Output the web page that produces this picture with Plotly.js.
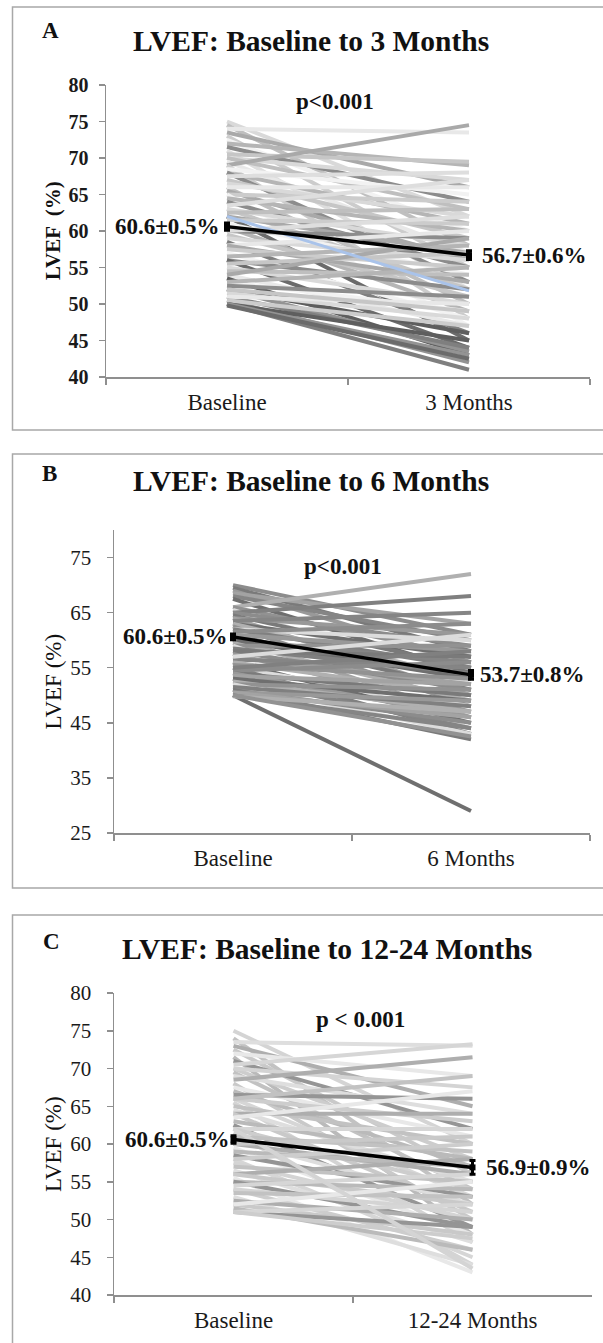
<!DOCTYPE html>
<html>
<head>
<meta charset="utf-8">
<script src="https://cdn.plot.ly/plotly-3.0.1.min.js"></script>
<style>
  html, body { margin: 0; padding: 0; background: #ffffff; }
  #chart { width: 603px; height: 1343px; }
</style>
</head>
<body>
<div id="chart"></div>
<script>
// ---------------- DATA ----------------
const catsA = ['Baseline', '3 Months'];
const catsB = ['Baseline', '6 Months'];
const catsC = ['Baseline', '12-24 Months'];

// Panel A: individual patients, baseline and 3 months LVEF (%)
const baseA   = [75, 74.5, 74, 73.5, 73, 72.5, 72, 71.5, 71, 70.5, 70, 70, 69.5, 69, 69, 68.5, 68, 68, 67.5, 67,
                 66.5, 66, 66, 65.5, 65, 65, 64.5, 64, 63.5, 63, 63, 62.5, 62, 62, 61.5, 61, 60.5, 60, 60, 59.5,
                 59, 58.5, 58, 58, 57.5, 57, 56.5, 56, 56, 55.5, 55, 54.5, 54, 54, 53.5, 53, 53, 52.5, 52, 52,
                 51.5, 51, 51, 50.5, 50.5, 50, 50, 50, 49.8, 52];
const followA = [62, 58, 73.5, 66, 55, 60, 69, 64, 52, 69.5, 67, 63, 57, 74.5, 48, 65, 61, 53, 68, 59,
                 62, 50, 66, 56, 64, 47, 60, 55, 67, 52, 58, 63, 45, 57, 61, 54, 49, 59, 62, 51,
                 56, 46, 60, 53, 55, 48, 58, 52, 44, 57, 50, 54, 47, 59, 43, 49, 55, 51, 46, 43.5,
                 48, 44, 50, 42, 47, 41, 45, 43, 42.5, 49];
const meanA = [60.6, 56.7];
const semA  = [0.5, 0.6];
const blueA = [62.0, 51.8];

// Panel B: baseline and 6 months
const baseB   = [70, 69.5, 69, 68.5, 68, 67.5, 66, 66, 65.5, 65, 65, 64.5, 64, 64, 63.5, 63, 63, 62.5, 62, 62,
                 61.5, 61, 61, 60.5, 60, 60, 59.5, 59, 59, 58.5, 58, 58, 57.5, 57, 56.5, 56, 56, 55.5, 55, 55,
                 54.5, 54, 54, 53.5, 53, 53, 52.5, 52, 52, 51.5, 51, 51, 50.5, 50.5, 50, 50, 49.8, 50, 57, 55];
const followB = [61, 58, 56, 63, 60, 54, 72, 57, 52, 68, 59, 55, 61, 50, 65, 57, 53, 48, 60, 55,
                 63, 51, 58, 46, 56, 53, 49, 59, 44, 54, 51, 57, 47, 52, 55, 45, 50, 53, 48, 43,
                 56, 50, 46, 52, 44, 49, 47, 51, 43, 48, 45, 42, 49, 46, 44, 29, 47, 42.5, 61, 58];
const meanB = [60.6, 53.7];
const semB  = [0.5, 0.8];

// Panel C: baseline and 12-24 months
const baseC   = [75, 74, 73.5, 73, 72.5, 72, 71.5, 71, 70.5, 70, 70, 69.5, 69, 68.5, 68, 67.5, 67, 66.5, 66, 66,
                 65.5, 65, 64.5, 64, 64, 63.5, 63, 62.5, 62, 62, 61.5, 61, 60.5, 60, 60, 59.5, 59, 58.5, 58, 58,
                 57.5, 57, 56.5, 56, 56, 55.5, 55, 55, 54.5, 54, 54, 53.5, 53, 52.5, 52, 52, 51.5, 51, 51, 51,
                 62, 66];
const followC = [60, 52, 73, 65, 56, 69, 48, 62, 73.2, 58, 67.5, 54, 64, 71.5, 50, 61, 57, 66, 53, 63,
                 47, 60, 55, 64, 51, 67, 58, 49, 62, 54, 44, 59, 52, 56, 61, 48, 57, 53, 45, 60,
                 50, 55, 47, 58, 52, 43, 54, 49, 56, 46, 51, 53, 44, 50, 48, 55, 46, 49, 52, 47.5,
                 43.5, 69];
const meanC = [60.6, 56.9];
const semC  = [0.5, 0.9];

const yTicksA = [40, 45, 50, 55, 60, 65, 70, 75, 80];
const yTicksB = [25, 35, 45, 55, 65, 75];
const yTicksC = [40, 45, 50, 55, 60, 65, 70, 75, 80];

// ---------------- STYLE ----------------
const paletteA = ['#d9d9d9','#bfbfbf','#e8e8e8','#a9a9a9','#cccccc','#f2f2f2','#b5b5b5','#8c8c8c','#dedede','#c6c6c6'];
const darkA    = ['#6b6b6b','#7f7f7f','#5e5e5e','#939393'];
const paletteB = ['#8c8c8c','#7a7a7a','#999999','#a3a3a3','#858585','#6f6f6f','#b0b0b0','#929292','#dcdcdc','#808080'];
const paletteC = ['#d4d4d4','#c2c2c2','#dedede','#aeaeae','#c9c9c9','#e8e8e8','#bababa','#959595','#d6d6d6','#cdcdcd'];

const SERIF = 'Liberation Serif, Times New Roman, serif';
const AXIS_GRAY = '#8f8f8f';

const traces = [];
function addPatients(cats, base, follow, xa, ya, colorFor) {
  for (let i = 0; i < base.length; i++) {
    traces.push({
      type: 'scatter', mode: 'lines', x: cats, y: [base[i], follow[i]],
      xaxis: xa, yaxis: ya, hoverinfo: 'skip', showlegend: false,
      line: { color: colorFor(i, follow[i]), width: 4 }
    });
  }
}
addPatients(catsA, baseA, followA, 'x', 'y',
  (i, f) => f < 46.5 ? darkA[i % darkA.length] : paletteA[i % paletteA.length]);
addPatients(catsB, baseB, followB, 'x2', 'y2', (i) => paletteB[i % paletteB.length]);
addPatients(catsC, baseC, followC, 'x3', 'y3', (i) => paletteC[i % paletteC.length]);

traces.push({
  type: 'scatter', mode: 'lines', x: catsA, y: blueA, xaxis: 'x', yaxis: 'y',
  line: { color: '#a9c3ea', width: 3 }, showlegend: false, hoverinfo: 'skip'
});

function addMean(cats, mean, sem, xa, ya) {
  traces.push({
    type: 'scatter', mode: 'lines+markers', x: cats, y: mean, xaxis: xa, yaxis: ya,
    line: { color: '#000000', width: 3.5 },
    marker: { symbol: 'square', size: 6, color: '#000000' },
    error_y: { type: 'data', array: sem, visible: true, color: '#000000', thickness: 3, width: 3 },
    showlegend: false, hoverinfo: 'skip'
  });
}
addMean(catsA, meanA, semA, 'x', 'y');
addMean(catsB, meanB, semB, 'x2', 'y2');
addMean(catsC, meanC, semC, 'x3', 'y3');

const W = 603, H = 1343;
const px = v => v / W;
const py = v => 1 - v / H;

function xAxis(cats, d0, d1, anchor) {
  return {
    domain: [px(d0), px(d1)], anchor: anchor, type: 'category',
    categoryorder: 'array', categoryarray: cats, range: [-0.5, 1.5],
    showline: true, linecolor: AXIS_GRAY, linewidth: 1.5,
    ticks: 'outside', tickson: 'boundaries', ticklen: 6, tickcolor: AXIS_GRAY, tickwidth: 1.5,
    showgrid: false, zeroline: false, fixedrange: true,
    tickfont: { family: SERIF, size: 23, color: '#1a1a1a' }, ticklabelstandoff: 4
  };
}
function yAxis(ticks, range, d0, d1, anchor, bold, size, standoff) {
  return {
    domain: [py(d1), py(d0)], anchor: anchor, range: range,
    tickmode: 'array', tickvals: ticks, ticktext: ticks.map(String),
    showline: true, linecolor: AXIS_GRAY, linewidth: 1.5,
    ticks: 'outside', ticklen: 6, tickcolor: AXIS_GRAY, tickwidth: 1.5,
    showgrid: false, zeroline: false, fixedrange: true,
    tickfont: { family: SERIF, size: size, color: '#1a1a1a', weight: bold ? 'bold' : 'normal' },
    ticklabelstandoff: standoff
  };
}

const annotations = [];
function txt(o) {
  annotations.push(Object.assign({ showarrow: false, xanchor: 'center', yanchor: 'middle',
    font: { family: SERIF, size: 23, color: '#111111' } }, o));
}

// panel letters & titles
const letterFont = { family: SERIF, size: 23, color: '#111' };
const titleFont = { family: SERIF, size: 29.5, color: '#111' };
txt({ text: '<b>A</b>', xref: 'paper', yref: 'paper', x: px(50), y: py(31), font: letterFont });
txt({ text: '<b>B</b>', xref: 'paper', yref: 'paper', x: px(49), y: py(473), font: letterFont });
txt({ text: '<b>C</b>', xref: 'paper', yref: 'paper', x: px(51), y: py(941), font: letterFont });
txt({ text: '<b>LVEF: Baseline to 3 Months</b>', xref: 'paper', yref: 'paper', x: px(311), y: py(41), font: titleFont });
txt({ text: '<b>LVEF: Baseline to 6 Months</b>', xref: 'paper', yref: 'paper', x: px(311), y: py(481), font: titleFont });
txt({ text: '<b>LVEF: Baseline to 12-24 Months</b>', xref: 'paper', yref: 'paper', x: px(327), y: py(949), font: titleFont });

// y titles
txt({ text: '<b>LVEF  (%)</b>', xref: 'paper', yref: 'y domain', x: px(53), y: 0.5, textangle: -90, font: { family: SERIF, size: 21, color: '#111' } });
txt({ text: 'LVEF (%)', xref: 'paper', yref: 'y2 domain', x: px(53), y: 0.5, textangle: -90, font: { family: SERIF, size: 23, color: '#111' } });
txt({ text: 'LVEF (%)', xref: 'paper', yref: 'y3 domain', x: px(53), y: 0.5, textangle: -90, font: { family: SERIF, size: 23, color: '#111' } });

// p values
txt({ text: '<b>p<0.001</b>', xref: 'x domain', yref: 'y domain', x: 0.473, y: 0.942 });
txt({ text: '<b>p<0.001</b>', xref: 'x2 domain', yref: 'y2 domain', x: 0.481, y: 0.881 });
txt({ text: '<b>p < 0.001</b>', xref: 'x3 domain', yref: 'y3 domain', x: 0.515, y: 0.911 });

// mean labels
function meanLabels(cats, mean, sem, xr, yr, shiftL, shiftR) {
  txt({ text: '<b>' + mean[0].toFixed(1) + '±' + sem[0].toFixed(1) + '%</b>', xref: xr, yref: yr,
        x: cats[0], y: mean[0], xanchor: 'right', yanchor: 'middle', xshift: shiftL });
  txt({ text: '<b>' + mean[1].toFixed(1) + '±' + sem[1].toFixed(1) + '%</b>', xref: xr, yref: yr,
        x: cats[1], y: mean[1], xanchor: 'left', yanchor: 'middle', xshift: shiftR });
}
meanLabels(catsA, meanA, semA, 'x', 'y', -5, 11);
meanLabels(catsB, meanB, semB, 'x2', 'y2', -3, 7);
meanLabels(catsC, meanC, semC, 'x3', 'y3', -2, 11);

// panel frames
const frame = { type: 'rect', xref: 'paper', yref: 'paper', line: { color: '#a8a8a8', width: 1.5 }, fillcolor: 'rgba(0,0,0,0)', layer: 'below' };
const shapes = [
  Object.assign({}, frame, { x0: px(12.5), x1: 1.05, y0: py(430), y1: py(7) }),
  Object.assign({}, frame, { x0: px(12.5), x1: 1.05, y0: py(888), y1: py(454) }),
  Object.assign({}, frame, { x0: px(12.5), x1: 1.05, y0: -0.05, y1: py(915) })
];

const layout = {
  width: W, height: H,
  margin: { l: 0, r: 0, t: 0, b: 0 },
  paper_bgcolor: '#ffffff', plot_bgcolor: 'rgba(0,0,0,0)',
  showlegend: false,
  xaxis:  xAxis(catsA, 106, 590, 'y'),
  yaxis:  yAxis(yTicksA, [40, 80], 85, 377, 'x', true, 20, 6),
  xaxis2: xAxis(catsB, 114, 590, 'y2'),
  yaxis2: yAxis(yTicksB, [25, 80], 530, 833, 'x2', false, 21, 11),
  xaxis3: xAxis(catsC, 114, 592, 'y3'),
  yaxis3: yAxis(yTicksC, [40, 80], 993, 1295, 'x3', false, 21, 11),
  annotations: annotations,
  shapes: shapes
};

Plotly.newPlot('chart', traces, layout, { staticPlot: true, displayModeBar: false });
</script>
</body>
</html>
